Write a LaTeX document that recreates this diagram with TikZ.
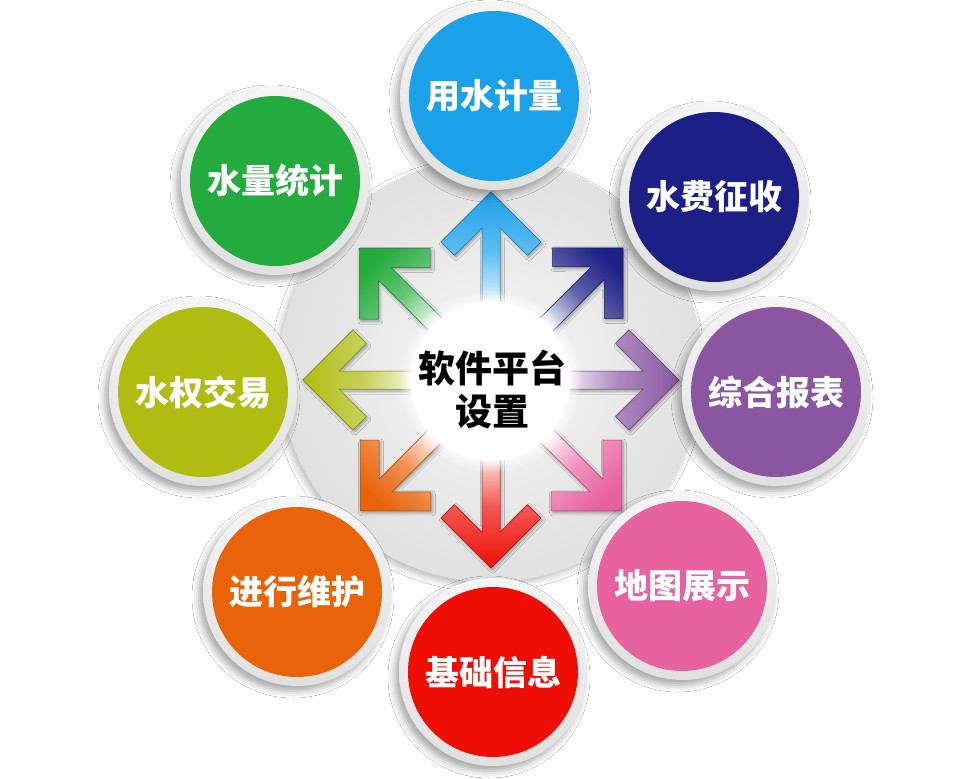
\documentclass[tikz,border=0pt]{standalone}
\usepackage{fontspec}
\newfontfamily\cjkfont{Noto Sans CJK SC}
\usetikzlibrary{shadows.blur,fadings}
\definecolor{cblue}{HTML}{1BA1EA}
\definecolor{cnavy}{HTML}{1C1F86}
\definecolor{cpurple}{HTML}{8A56A2}
\definecolor{cpink}{HTML}{E8629F}
\definecolor{cred}{HTML}{EE0E06}
\definecolor{corange}{HTML}{E8630A}
\definecolor{colive}{HTML}{B0BC12}
\definecolor{cgreen}{HTML}{24AB3D}
\tikzset{
  rimnode/.style={circle, inner sep=0pt, minimum size=188pt, top color=black!4, bottom color=black!12,
    blur shadow={shadow xshift=-4pt, shadow yshift=-5pt, shadow blur radius=7pt, shadow opacity=35}},
  topicnode/.style={circle, inner sep=0pt, minimum size=170pt, fill=#1, text=white,
    font=\cjkfont\bfseries\fontsize{34}{34}\selectfont},
  basedisk/.style={circle, inner sep=0pt, minimum size=424pt, inner color=black!3, outer color=black!12,
    blur shadow={shadow xshift=-3pt, shadow yshift=-4pt, shadow blur radius=6pt, shadow opacity=25}},
  hubdisk/.style={circle, inner sep=0pt, minimum size=160pt, fill=white},
  hublabel/.style={align=center, inner sep=0pt, text=black, font=\cjkfont\bfseries\fontsize{37}{43}\selectfont},
  spokestyle/.style={line width=0.5pt, line join=miter,
    blur shadow={shadow xshift=1.5pt, shadow yshift=-2pt, shadow blur radius=3pt, shadow opacity=35}}
}
\newcommand\spoke[3]{%
  \pgfmathsetmacro\spsa{#1-90}%
  \pgfmathsetmacro\spj{#2-35.9}%
  \pgfmathsetmacro\spi{#2-63.4}%
  \pgfmathsetmacro\spo{#2-50}%
  \path[spokestyle, draw=#3!70!black, bottom color=white, top color=#3, middle color=#3!70!white, shading angle=\spsa]
    ([shift={(o)},rotate=#1]66,9) -- ([shift={(o)},rotate=#1]\spj,9) -- ([shift={(o)},rotate=#1]\spi,36.6)
    -- ([shift={(o)},rotate=#1]\spo,50) -- ([shift={(o)},rotate=#1]#2,0) -- ([shift={(o)},rotate=#1]\spo,-50)
    -- ([shift={(o)},rotate=#1]\spi,-36.6) -- ([shift={(o)},rotate=#1]\spj,-9) -- ([shift={(o)},rotate=#1]66,-9) -- cycle;
}
\begin{document}
\begin{tikzpicture}[x=1pt,y=-1pt]
\fill[white] (0,0) rectangle (980,779);
\useasboundingbox (0,0) rectangle (980,779);
\coordinate (o) at (491,380);
% base disk
\node (base) [basedisk] at (491,370) {};
% spokes
\spoke{90}{188}{cblue}
\spoke{45}{187}{cnavy}
\spoke{0}{188}{cpurple}
\spoke{-45}{185}{cpink}
\spoke{-90}{188}{cred}
\spoke{-135}{185}{corange}
\spoke{180}{188}{colive}
\spoke{135}{186}{cgreen}
% hub
\fill[white, path fading=circle with fuzzy edge 20 percent] (490,381) circle (92);
\node (hub) [hubdisk] at (490,381) {};
\node (hublbl) [hublabel] at (492,389) {软件平台\\设置};
% topics
\node (r1) [rimnode] at (494,96) {};
\node (t1) [topicnode=cblue] at (494,96) {用水计量};
\node (r2) [rimnode] at (714,197) {};
\node (t2) [topicnode=cnavy] at (714,197) {水费征收};
\node (r3) [rimnode] at (776,392) {};
\node (t3) [topicnode=cpurple] at (776,392) {综合报表};
\node (r4) [rimnode] at (682,586) {};
\node (t4) [topicnode=cpink] at (682,586) {地图展示};
\node (r5) [rimnode] at (493,672) {};
\node (t5) [topicnode=cred] at (493,672) {基础信息};
\node (r6) [rimnode] at (297,592) {};
\node (t6) [topicnode=corange] at (297,592) {进行维护};
\node (r7) [rimnode] at (203,392) {};
\node (t7) [topicnode=colive] at (203,392) {水权交易};
\node (r8) [rimnode] at (275,181) {};
\node (t8) [topicnode=cgreen] at (275,181) {水量统计};
\end{tikzpicture}
\end{document}
